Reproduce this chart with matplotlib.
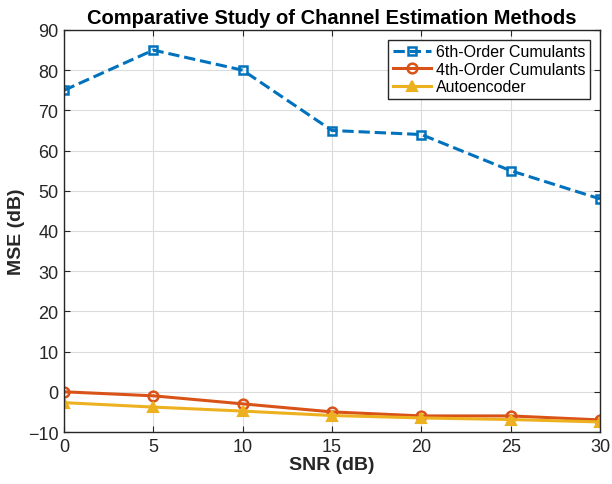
import matplotlib
matplotlib.use("Agg")
import matplotlib.pyplot as plt

plt.rcParams['font.family'] = ['Liberation Sans', 'DejaVu Sans']

snr = [0, 5, 10, 15, 20, 25, 30]
mse_6th = [75, 85, 80, 65, 64, 55, 48]
mse_4th = [0, -1, -3, -5, -6, -6, -7]
mse_ae = [-2.7, -3.8, -4.8, -5.9, -6.5, -6.9, -7.5]

labels = ['6th-Order Cumulants', '4th-Order Cumulants', 'Autoencoder']
xticks = [0, 5, 10, 15, 20, 25, 30]
yticks = list(range(-10, 91, 10))

fig = plt.figure(figsize=(6.12, 4.85), dpi=100)
ax = fig.add_axes([64/612, 1 - 433/485, (600-64)/612, (433-31)/485])

ax.plot(snr, mse_6th, linestyle='--', color='#0072BD', lw=2.2, marker='s',
        markersize=5.5, markerfacecolor='none', markeredgewidth=1.8, label=labels[0])
ax.plot(snr, mse_4th, linestyle='-', color='#D95319', lw=2.2, marker='o',
        markersize=7, markerfacecolor='none', markeredgewidth=1.8, label=labels[1])
ax.plot(snr, mse_ae, linestyle='-', color='#EDB120', lw=2.2, marker='^',
        markersize=7, markerfacecolor='#EDB120', markeredgewidth=1.5, label=labels[2])

ax.set_xlim(0, 30)
ax.set_ylim(-10, 90)
ax.set_xticks(xticks)
ax.set_yticks(yticks)
ax.grid(True, color='#DBDBDB', lw=0.8)
ax.set_axisbelow(True)
ax.tick_params(direction='in', length=4, labelsize=13, colors='#262626', top=True, right=True, pad=4)
for s in ax.spines.values():
    s.set_color('#262626')
    s.set_linewidth(1.0)

ax.set_xlabel('SNR (dB)', fontsize=14, fontweight='bold', color='#262626', labelpad=1)
ax.set_ylabel('MSE (dB)', fontsize=14, fontweight='bold', color='#262626', labelpad=2)
ax.set_title('Comparative Study of Channel Estimation Methods', fontsize=14.5,
             fontweight='bold', color='#000000', pad=5)

leg = ax.legend(loc='upper right', fontsize=11.5, fancybox=False, framealpha=1,
                edgecolor='#262626', borderpad=0.3, labelspacing=0.15,
                handlelength=2.4, handletextpad=0.3, borderaxespad=0.6)
leg.get_frame().set_linewidth(1.0)

fig.savefig('out.png', dpi=100)
